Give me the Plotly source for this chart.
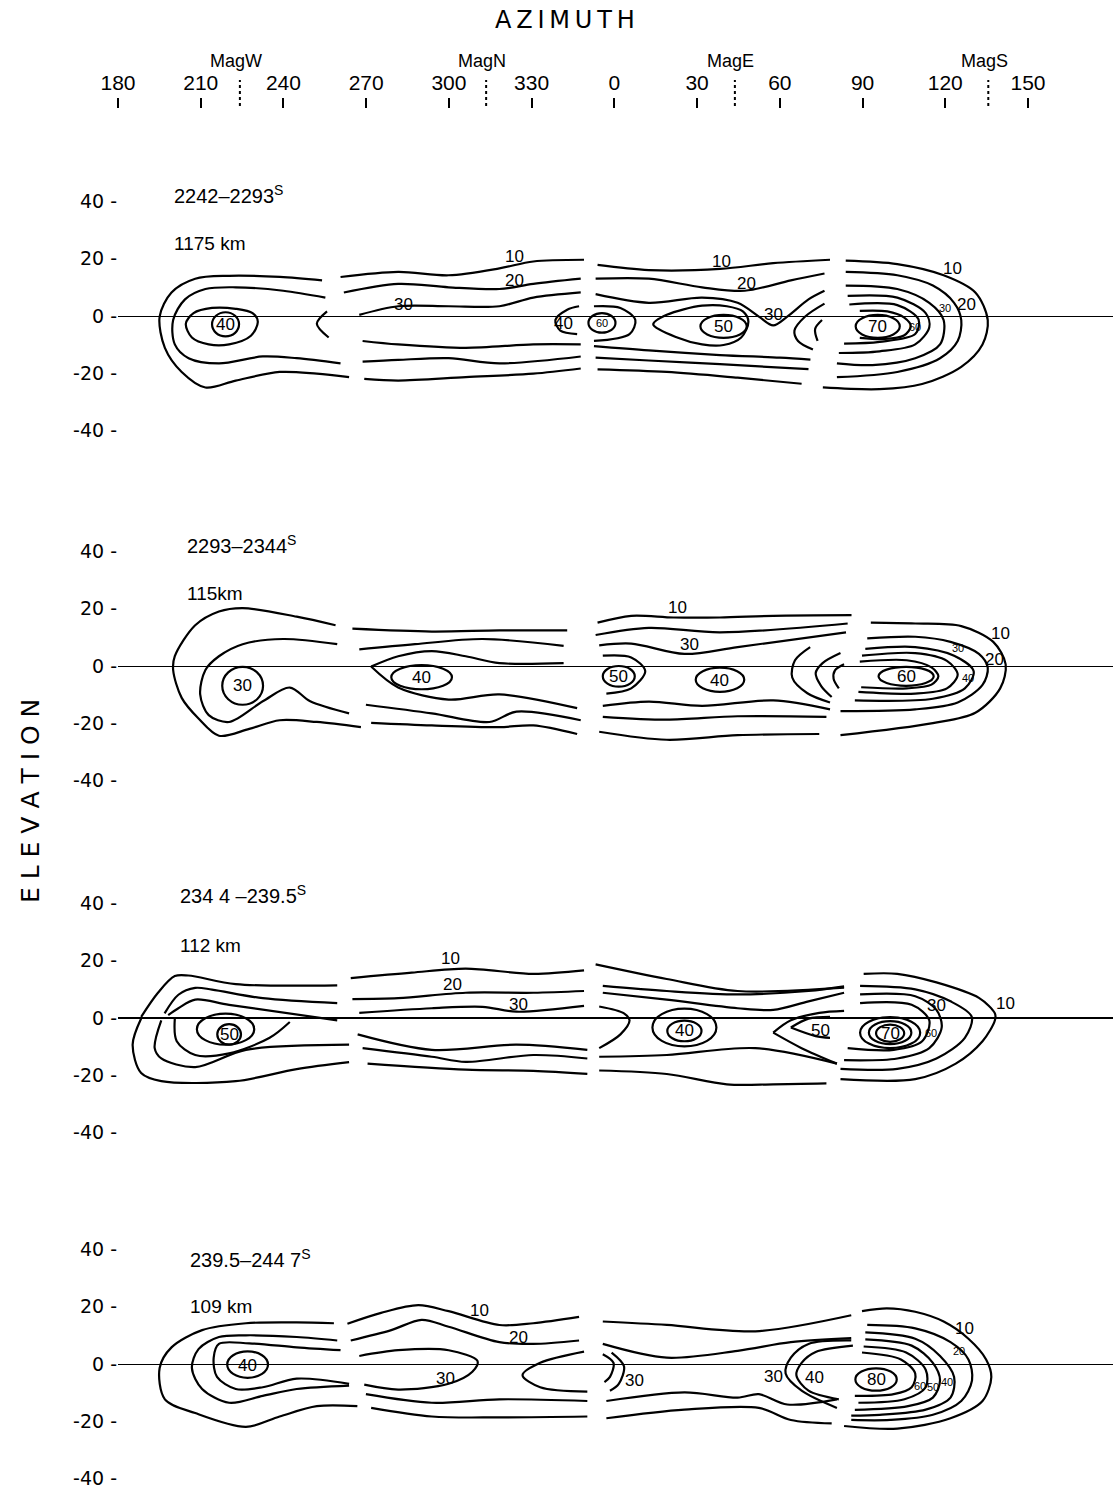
import plotly.graph_objects as go

# ---------------- axis data ----------------
AZ_TICKS = [180, 210, 240, 270, 300, 330, 360, 390, 420, 450, 480, 510]
AZ_TICK_TEXT = ["180", "210", "240", "270", "300", "330", "0", "30", "60", "90", "120", "150"]
MAG_AZ = [224.2, 313.5, 403.7, 495.6]
MAG_TEXT = ["MagW", "MagN", "MagE", "MagS"]
EL_TICKS = [-40, -20, 0, 20, 40]
EL_TICK_TEXT = ["-40 -", "-20 -", "0 -", "20 -", "40 -"]

TITLES = ["2242–2293<sup>S</sup>", "2293–2344<sup>S</sup>", "234 4 –239.5<sup>S</sup>", "239.5–244 7<sup>S</sup>"]
DISTANCES = ["1175 km", "115km", "112 km", "109 km"]

# ---------------- panel 1 (azimuth unwrapped: 0..150 -> 360..510) ----------------
P1_LINES = [
    ([254.0, 238.7, 220.3, 208.0, 199.4, 195.1, 197.0, 203.1, 211.7, 222.7, 238.6, 252.1, 263.8],
     [12.4, 13.6, 14.0, 13.0, 8.2, -0.2, -11.1, -19.5, -24.9, -22.5, -19.5, -20.1, -21.3]),
    ([255.2, 239.9, 222.7, 211.7, 204.3, 200.0, 200.6, 205.6, 216.6, 232.5, 244.8, 260.7],
     [6.4, 8.8, 10.0, 9.4, 5.8, -1.4, -9.9, -14.7, -16.5, -14.1, -14.7, -16.5]),
    ([204.6, 207.4, 214.1, 222.7, 228.8, 230.7, 228.2, 220.3, 212.9, 206.8, 204.6],
     [-2.7, 1.0, 2.8, 2.5, 1.0, -2.0, -6.9, -9.9, -9.9, -7.5, -2.7]),
    ([255.8, 252.1, 256.4], [1.6, -2.7, -7.5]),
    ([260.7, 281.6, 299.9, 318.3, 330.6, 349.0], [13.6, 15.4, 14.2, 16.6, 19.0, 19.6]),
    ([261.9, 281.6, 299.9, 318.3, 330.6, 347.8], [8.2, 11.2, 10.0, 9.4, 11.2, 13.0]),
    ([267.5, 281.6, 299.9, 318.3, 330.6, 347.8], [0.4, 3.4, 3.4, 3.4, 6.4, 8.2]),
    ([268.7, 281.6, 306.1, 330.6, 347.8], [-8.7, -9.9, -11.1, -9.9, -9.9]),
    ([268.7, 281.6, 299.9, 318.3, 347.8], [-15.9, -15.3, -14.7, -16.5, -14.1]),
    ([269.3, 281.6, 306.1, 330.6, 347.8], [-21.9, -22.5, -21.3, -20.1, -18.3]),
    ([347.2, 342.9, 338.6, 340.4, 346.5], [3.4, 2.2, -1.4, -5.1, -6.3]),
    ([353.9, 372.5, 398.3, 417.6, 438.2], [17.8, 16.0, 16.4, 18.4, 19.6]),
    ([353.2, 372.5, 391.8, 407.3, 424.0, 436.2], [13.0, 13.0, 10.0, 8.8, 12.4, 14.8]),
    ([353.2, 372.5, 391.8, 404.7, 412.4, 417.6, 422.7, 430.4, 436.2],
     [7.6, 4.6, 6.4, 4.6, -0.2, -3.3, -0.2, 5.8, 8.8]),
    ([352.6, 362.2, 367.6, 365.5, 352.6], [3.4, 2.8, -1.4, -6.3, -8.7]),
    ([374.1, 379.0, 391.8, 400.8, 406.6, 408.6, 406.0, 399.6, 391.8, 382.8, 374.1],
     [-2.9, 0.4, 3.6, 3.4, 1.6, -2.0, -7.5, -10.1, -9.9, -7.5, -2.9]),
    ([352.6, 372.5, 398.3, 420.0, 431.1], [-10.5, -12.0, -13.6, -14.5, -15.2]),
    ([353.2, 372.5, 398.3, 430.4], [-14.5, -15.5, -16.8, -18.5]),
    ([353.9, 379.0, 404.7, 427.9], [-18.6, -19.5, -21.5, -23.6]),
    ([436.2, 429.2, 425.3, 426.6, 432.0], [4.3, -0.2, -5.1, -8.7, -11.7]),
    ([435.3, 432.8, 433.7], [-1.4, -4.5, -8.7]),
    ([443.9, 462.6, 479.4, 490.9, 495.4, 493.5, 485.8, 471.6, 456.2, 435.6],
     [19.3, 18.1, 14.2, 8.2, -1.4, -9.9, -17.7, -23.7, -25.5, -24.9]),
    ([443.9, 462.6, 475.5, 483.2, 485.8, 484.5, 478.1, 462.6, 440.7],
     [15.4, 14.2, 10.6, 4.6, -1.4, -8.7, -14.7, -19.5, -21.3]),
    ([443.9, 462.6, 474.2, 479.4, 478.1, 469.1, 453.6, 440.7],
     [10.6, 9.4, 4.6, -1.4, -9.9, -14.7, -17.1, -16.5]),
    ([444.6, 462.6, 472.9, 474.2, 469.1, 456.2, 441.4], [7.0, 6.4, 1.0, -3.9, -9.9, -12.3, -12.9]),
    ([445.2, 462.6, 470.3, 469.1, 456.2, 443.3], [4.0, 3.8, -1.2, -6.3, -9.0, -9.6]),
    ([449.0, 459.0, 465.0, 467.5, 465.0, 458.0, 449.0], [1.8, 1.6, -0.5, -3.6, -6.8, -8.0, -7.6]),
]
P1_LOOPS = [(219.0, -2.9, 4.9, 4.2), (355.5, -2.4, 4.9, 3.4), (399.6, -3.6, 8.4, 4.0), (455.5, -3.6, 8.0, 4.0)]
P1_LABELS = [("10", 323.9, 20.8), ("20", 323.9, 12.4), ("30", 283.4, 4.0), ("40", 219.0, -2.9),
             ("40", 341.6, -2.7), ("10", 398.9, 19.0), ("20", 407.9, 11.2), ("30", 417.6, 0.4),
             ("50", 399.6, -3.6), ("70", 455.5, -3.6), ("20", 487.7, 4.0), ("10", 482.6, 16.6)]
P1_SMALL = [("60", 355.5, -2.4), ("60", 469.1, -3.9), ("30", 480.0, 2.8)]

# ---------------- panel 2 ----------------
P2_LINES = [
    ([258.9, 244.8, 225.2, 216.6, 208.0, 200.6, 200.0, 203.1, 209.2, 216.6, 227.6, 238.6, 252.1, 268.1],
     [14.2, 17.2, 20.2, 19.0, 14.2, 3.4, -1.4, -11.1, -18.3, -24.3, -21.9, -18.9, -19.5, -21.3]),
    ([259.5, 239.9, 225.2, 216.6, 211.7, 209.8, 212.9, 220.3, 232.5, 242.3, 249.7, 263.8],
     [7.6, 9.4, 7.6, 3.4, -1.4, -9.9, -17.1, -19.5, -12.3, -7.5, -12.3, -16.5]),
    ([265.0, 293.8, 318.3, 342.9], [13.0, 12.0, 12.4, 12.4]),
    ([267.5, 287.7, 312.2, 341.6], [5.8, 7.6, 9.4, 7.0]),
    ([271.8, 281.6, 293.8, 306.1, 318.3, 341.6], [-0.2, 3.4, 5.2, 3.4, 1.0, 1.0]),
    ([271.8, 281.6, 299.9, 318.3, 346.5], [-0.2, -7.5, -11.7, -9.9, -14.7]),
    ([269.9, 293.8, 314.7, 324.5, 347.8], [-13.5, -16.5, -19.5, -15.9, -18.9]),
    ([271.8, 293.8, 318.3, 330.6, 346.5], [-19.8, -20.7, -21.3, -20.7, -23.7]),
    ([353.9, 366.1, 381.5, 398.3, 417.6, 446.0], [15.1, 17.5, 16.9, 16.9, 17.5, 17.7]),
    ([353.2, 372.5, 398.3, 444.6], [10.8, 13.3, 11.7, 14.8]),
    ([354.5, 366.1, 385.4, 404.7, 444.0], [7.2, 7.8, 4.2, 6.6, 11.7]),
    ([355.8, 366.1, 371.2, 366.1, 357.1], [3.6, 3.0, -1.8, -7.8, -9.6]),
    ([355.8, 372.5, 391.8, 417.6, 438.2], [-13.9, -12.4, -13.9, -12.0, -15.1]),
    ([355.8, 379.0, 404.7, 436.9], [-17.7, -18.7, -17.5, -17.7]),
    ([354.5, 379.0, 404.7, 434.3], [-22.9, -25.7, -24.1, -23.7]),
    ([431.0, 425.5, 424.5, 430.0, 438.2], [6.6, 2.0, -4.0, -9.5, -12.7]),
    ([442.0, 435.5, 433.0, 435.0, 438.8], [4.5, 1.0, -2.5, -7.0, -10.8]),
    ([443.3, 440.0, 439.5, 441.4], [0.6, -1.5, -4.5, -7.8]),
    ([453.0, 469.1, 485.8, 497.4, 501.9, 499.9, 490.9, 475.5, 442.0],
     [15.1, 14.8, 13.9, 8.4, 0.6, -7.8, -16.3, -19.9, -24.1]),
    ([451.7, 469.1, 481.9, 492.2, 495.4, 493.5, 484.5, 469.1, 442.0],
     [9.6, 10.2, 8.4, 4.2, -0.6, -6.6, -12.7, -15.1, -15.7]),
    ([451.0, 469.1, 483.2, 490.3, 487.1, 475.5, 447.2], [6.0, 6.6, 3.6, -1.8, -7.8, -11.4, -12.0]),
    ([449.8, 469.1, 480.6, 484.5, 480.6, 469.1, 448.5], [3.6, 4.5, 1.8, -3.0, -7.8, -9.6, -9.0]),
    ([449.0, 466.0, 475.0, 477.5, 475.0, 466.0, 449.5], [1.5, 2.0, -0.5, -3.6, -6.5, -7.8, -7.4]),
]
P2_LOOPS = [(225.2, -6.9, 7.4, 6.6), (290.1, -3.9, 11.0, 4.2), (361.6, -3.6, 5.8, 3.6),
            (398.3, -4.8, 8.8, 4.2), (465.8, -3.6, 10.0, 3.3)]
P2_LABELS = [("30", 225.2, -6.9), ("40", 290.1, -3.9), ("10", 382.8, 20.5), ("30", 387.3, 7.6),
             ("50", 361.6, -3.6), ("40", 398.3, -5.0), ("60", 465.8, -3.6), ("10", 499.9, 11.4),
             ("20", 498.0, 2.4)]
P2_SMALL = [("30", 484.5, 6.4), ("40", 488.4, -4.2)]

# ---------------- panel 3 ----------------
P3_LINES = [
    ([259.5, 222.7, 205.5, 200.6, 194.5, 188.4], [11.4, 11.8, 14.8, 14.6, 8.8, 0.4]),
    ([188.4, 185.3, 188.4, 195.7, 222.7, 244.8, 263.8], [-0.2, -9.3, -19.2, -22.0, -22.0, -17.8, -15.4]),
    ([259.5, 232.5, 214.1, 208.0, 201.9, 196.9], [5.2, 6.9, 9.9, 10.5, 8.1, 1.6]),
    ([195.7, 193.3, 195.7, 208.0, 226.4, 263.8], [-0.8, -10.5, -14.1, -17.1, -11.1, -9.3]),
    ([259.5, 220.3, 208.0, 201.9, 198.2], [-0.8, 4.6, 6.4, 3.4, 1.0]),
    ([200.6, 201.3, 208.0, 220.3, 235.0, 242.3], [-0.2, -8.1, -12.9, -12.3, -6.9, -1.4]),
    ([264.4, 286.5, 306.1, 330.6, 349.0], [13.9, 15.8, 17.2, 15.4, 16.6]),
    ([265.0, 281.6, 306.1, 330.6, 349.0], [6.6, 6.9, 8.8, 8.8, 9.4]),
    ([267.5, 293.8, 312.2, 324.5, 349.0], [1.8, 3.4, 3.9, 2.2, 4.2]),
    ([266.9, 293.8, 324.5, 350.2], [-5.7, -11.1, -9.3, -11.1]),
    ([268.7, 293.8, 306.1, 330.6, 350.2], [-10.5, -13.5, -15.3, -12.9, -14.1]),
    ([270.5, 306.1, 330.6, 350.2], [-15.9, -18.0, -18.4, -19.5]),
    ([353.2, 379.0, 404.7, 443.3], [18.7, 13.6, 9.4, 10.6]),
    ([355.8, 379.0, 404.7, 430.4, 443.3], [11.2, 9.4, 8.2, 9.4, 11.0]),
    ([355.8, 379.0, 404.7, 417.6, 430.4, 443.3], [8.8, 6.4, 3.4, 2.8, 5.8, 8.8]),
    ([354.5, 363.5, 365.5, 362.2, 354.5], [4.0, 1.6, -0.8, -5.7, -10.5]),
    ([417.6, 424.0, 434.3, 443.3], [-5.1, -0.8, 1.8, 2.5]),
    ([417.6, 427.9, 440.7], [-5.1, -10.5, -15.9]),
    ([424.0, 430.4, 438.2], [-3.3, -0.2, 0.4]),
    ([424.0, 433.0, 438.2], [-3.3, -6.3, -6.9]),
    ([354.5, 379.0, 411.1, 440.7], [-13.5, -12.9, -10.5, -15.9]),
    ([354.5, 379.0, 400.8, 417.6, 436.9], [-18.3, -19.5, -23.1, -23.1, -22.8]),
    ([450.4, 462.6, 476.8, 492.2, 498.0, 498.0, 493.5, 483.8, 469.1, 442.0],
     [15.4, 15.4, 12.4, 7.0, 1.6, -0.8, -8.1, -15.9, -21.3, -21.3]),
    ([449.1, 469.1, 481.9, 489.6, 487.1, 476.8, 462.6, 442.0], [11.2, 10.0, 5.8, 0.4, -6.9, -14.1, -17.7, -17.7]),
    ([449.1, 469.1, 476.8, 478.7, 474.2, 462.6, 443.3], [8.2, 7.6, 2.8, -3.3, -10.5, -14.1, -14.7]),
    ([449.1, 467.8, 474.2, 471.6, 461.3, 444.6], [5.2, 4.6, -0.8, -8.1, -11.1, -10.5]),
]
P3_LOOPS = [(219.0, -3.9, 10.4, 5.4), (220.3, -5.7, 4.3, 3.6), (385.4, -3.3, 11.6, 6.6),
            (385.4, -4.5, 6.2, 3.6), (460.0, -5.1, 10.9, 5.4), (460.0, -5.1, 7.7, 4.0), (460.0, -5.3, 5.1, 3.0)]
P3_LABELS = [("50", 220.3, -5.7), ("10", 300.6, 20.8), ("20", 301.2, 11.8), ("30", 325.1, 4.6),
             ("40", 385.4, -4.5), ("50", 434.9, -4.5), ("70", 460.0, -5.3), ("30", 476.8, 4.2),
             ("10", 501.9, 5.2)]
P3_SMALL = [("60", 474.8, -5.1)]

# ---------------- panel 4 ----------------
P4_LINES = [
    ([258.3, 244.8, 226.4, 210.5, 199.4, 195.1, 197.0, 208.0, 226.4, 238.6, 252.1, 266.8],
     [14.2, 14.5, 14.2, 11.8, 5.8, -1.4, -12.3, -17.1, -21.9, -18.3, -14.7, -14.7]),
    ([259.5, 244.8, 226.4, 216.6, 209.2, 206.8, 210.5, 220.3, 232.5, 244.8, 263.8],
     [8.2, 9.4, 10.0, 9.4, 5.2, -1.4, -8.7, -13.5, -11.1, -8.7, -7.5]),
    ([260.7, 244.8, 227.6, 216.6, 214.7, 215.9, 222.7, 232.5, 244.8, 263.8],
     [4.8, 5.8, 7.2, 7.0, 2.2, -4.5, -8.7, -8.1, -5.1, -6.9]),
    ([263.2, 275.4, 288.9, 299.9, 318.3, 330.6, 347.2], [14.0, 17.8, 20.5, 18.4, 13.6, 14.2, 16.4]),
    ([264.4, 279.1, 290.1, 299.9, 318.3, 330.6, 347.2], [8.2, 11.8, 15.4, 13.0, 7.6, 7.0, 8.2]),
    ([267.5, 281.6, 299.9, 310.4, 308.5, 299.9, 281.6, 269.3], [2.8, 4.8, 4.8, 1.0, -2.7, -6.9, -8.9, -7.2]),
    ([349.0, 333.1, 326.7, 333.1, 350.2], [4.3, 0.4, -3.9, -8.1, -9.6]),
    ([269.9, 293.8, 318.3, 350.2], [-10.5, -13.5, -12.3, -12.9]),
    ([271.8, 293.8, 318.3, 350.2], [-15.3, -18.3, -18.6, -18.3]),
    ([355.8, 359.7, 358.4, 356.4], [3.4, 0.4, -4.5, -6.3]),
    ([359.0, 363.5, 361.6, 358.4], [4.0, -0.8, -6.9, -9.3]),
    ([355.8, 379.0, 411.1, 445.9], [14.8, 13.6, 11.4, 17.0]),
    ([355.8, 379.0, 404.7, 424.0, 445.9], [7.0, 2.2, 4.6, 7.6, 9.0]),
    ([357.1, 385.4, 404.7, 412.4, 422.7, 440.7], [-12.9, -9.9, -11.7, -10.5, -14.1, -12.3]),
    ([357.1, 385.4, 412.4, 424.0, 438.8], [-18.9, -15.9, -15.3, -19.5, -20.7]),
    ([445.9, 430.4, 424.0, 422.1, 427.9, 440.7], [8.2, 7.0, 2.2, -3.3, -9.3, -15.3]),
    ([446.5, 433.0, 427.9, 426.0, 430.4, 441.4], [6.4, 4.2, 0.4, -3.9, -9.3, -12.3]),
    ([449.8, 458.8, 469.1, 479.4, 488.4, 494.8, 496.7, 493.5, 481.9, 462.6, 443.3],
     [18.4, 19.4, 18.2, 14.8, 8.8, 1.6, -4.5, -12.9, -18.9, -22.5, -21.6]),
    ([451.7, 469.1, 481.9, 488.4, 489.7, 485.8, 475.5, 460.0, 445.9],
     [13.6, 12.4, 7.6, 1.6, -5.7, -12.9, -17.7, -19.5, -19.5]),
    ([451.0, 469.1, 478.1, 483.2, 481.9, 472.9, 456.2, 445.9], [11.0, 8.8, 2.8, -4.5, -11.7, -15.9, -17.7, -18.0]),
    ([451.0, 467.8, 475.5, 478.1, 475.5, 466.5, 447.2], [8.6, 6.4, 0.4, -5.7, -11.7, -14.7, -16.0]),
    ([450.4, 465.8, 472.9, 472.9, 465.2, 448.5], [6.1, 4.0, -2.0, -8.1, -12.3, -13.5]),
    ([449.8, 463.9, 469.1, 467.8, 461.3, 447.2], [4.0, 1.6, -3.3, -8.1, -10.5, -11.1]),
]
P4_LOOPS = [(227.0, -0.2, 7.4, 4.6), (454.9, -5.4, 7.5, 3.9)]
P4_LABELS = [("40", 227.0, -0.5), ("10", 311.0, 18.8), ("20", 325.1, 9.4), ("30", 298.7, -5.1),
             ("30", 367.4, -5.9), ("30", 417.6, -4.5), ("40", 432.4, -4.7), ("80", 454.9, -5.4),
             ("10", 487.1, 12.2)]
P4_SMALL = [("20", 485.1, 4.6), ("60", 471.0, -7.5), ("50", 475.5, -8.1), ("40", 480.6, -6.3)]

PANELS = [
    (P1_LINES, P1_LOOPS, P1_LABELS, P1_SMALL),
    (P2_LINES, P2_LOOPS, P2_LABELS, P2_SMALL),
    (P3_LINES, P3_LOOPS, P3_LABELS, P3_SMALL),
    (P4_LINES, P4_LOOPS, P4_LABELS, P4_SMALL),
]

# ---------------- layout helpers ----------------
W, H = 1113, 1491
NARROW = "Liberation Sans, Arial, sans-serif"
GEOM = "DejaVu Sans, Liberation Sans, sans-serif"
X_DOMAIN = [118 / W, 1.0]
X_RANGE = [180, 180 + (W - 118) / 2.7576]
PX_PER_DEG = 2.87
ZERO_PX = [316, 666, 1018, 1364]
TITLE_POS = [(199.4, 42.2, 25.3), (204.3, 42.2, 25.3), (201.8, 42.9, 25.4), (205.4, 36.8, 20.0)]

fig = go.Figure()
shapes = []
annotations = []
layout_axes = {}

for i, (lines, loops, labels, small) in enumerate(PANELS):
    n = i + 1
    xs = "x" if n == 1 else f"x{n}"
    ys = "y" if n == 1 else f"y{n}"
    for az, el in lines:
        fig.add_trace(go.Scatter(
            x=az, y=el, mode="lines", xaxis=xs, yaxis=ys,
            line=dict(color="black", width=2.2, shape="spline", smoothing=0.9),
            hoverinfo="skip", showlegend=False))
    for (ca, ce, ra, re) in loops:
        shapes.append(dict(type="circle", xref=xs, yref=ys, x0=ca - ra, x1=ca + ra,
                           y0=ce - re, y1=ce + re, line=dict(color="black", width=2.2)))
    for (t, a, e) in labels:
        annotations.append(dict(x=a, y=e, xref=xs, yref=ys, text=t, showarrow=False,
                                xanchor="center", yanchor="middle",
                                font=dict(family=NARROW, size=17, color="black")))
    for (t, a, e) in small:
        annotations.append(dict(x=a, y=e, xref=xs, yref=ys, text=t, showarrow=False,
                                xanchor="center", yanchor="middle",
                                font=dict(family=NARROW, size=11, color="black")))
    ta, te1, te2 = TITLE_POS[i]
    annotations.append(dict(x=ta, y=te1, xref=xs, yref=ys, text=TITLES[i], showarrow=False,
                            xanchor="left", yanchor="middle",
                            font=dict(family=NARROW, size=20, color="black")))
    annotations.append(dict(x=ta, y=te2, xref=xs, yref=ys, text=DISTANCES[i], showarrow=False,
                            xanchor="left", yanchor="middle",
                            font=dict(family=NARROW, size=19, color="black")))

    z = ZERO_PX[i]
    top_px = z - 50 * PX_PER_DEG
    bot_px = min(z + 50 * PX_PER_DEG, H)
    y_lo = -(bot_px - z) / PX_PER_DEG
    dom = [1 - bot_px / H, 1 - top_px / H]
    xkey = "xaxis" if n == 1 else f"xaxis{n}"
    ykey = "yaxis" if n == 1 else f"yaxis{n}"
    layout_axes[ykey] = dict(
        domain=dom, range=[y_lo, 50], anchor=xs, tickvals=EL_TICKS, ticktext=EL_TICK_TEXT,
        showgrid=False, zeroline=True, zerolinecolor="black", zerolinewidth=2 if n == 3 else 1.2,
        showline=False, ticks="", automargin=False,
        tickfont=dict(family=GEOM, size=19, color="black"), fixedrange=True)
    if n == 1:
        layout_axes[xkey] = dict(
            domain=X_DOMAIN, range=X_RANGE, anchor="free", position=1 - 108 / H, side="top",
            tickvals=AZ_TICKS, ticktext=AZ_TICK_TEXT, ticks="outside", ticklen=10, tickwidth=1.8,
            tickcolor="black", showgrid=False, zeroline=False, showline=False, automargin=False,
            tickfont=dict(family=NARROW, size=21, color="black"))
    else:
        layout_axes[xkey] = dict(domain=X_DOMAIN, range=X_RANGE, anchor=ys, visible=False,
                                 showgrid=False, zeroline=False, automargin=False)

for a, t in zip(MAG_AZ, MAG_TEXT):
    shapes.append(dict(type="line", xref="x", yref="paper", x0=a, x1=a, y0=1 - 106 / H, y1=1 - 80 / H,
                       line=dict(color="black", width=2, dash="dot")))
    annotations.append(dict(x=a, y=1 - 61 / H, xref="x", yref="paper", text=t, showarrow=False,
                            xanchor="center", yanchor="middle", xshift=-4,
                            font=dict(family=NARROW, size=18, color="black")))

annotations.append(dict(x=565 / W, y=1 - 20 / H, xref="paper", yref="paper",
                        text="A\u2009Z\u2009I\u2009M\u2009U\u2009T\u2009H", showarrow=False,
                        xanchor="center", yanchor="middle",
                        font=dict(family=GEOM, size=24, color="black")))
annotations.append(dict(x=30 / W, y=1 - 801 / H, xref="paper", yref="paper",
                        text="E L E V A T I O N", showarrow=False, textangle=-90,
                        xanchor="center", yanchor="middle",
                        font=dict(family=GEOM, size=25, color="black")))

fig.update_layout(
    width=W, height=H, margin=dict(l=0, r=0, t=0, b=0, autoexpand=False),
    paper_bgcolor="white", plot_bgcolor="white",
    shapes=shapes, annotations=annotations, showlegend=False, **layout_axes)

fig.write_html("out.html")
